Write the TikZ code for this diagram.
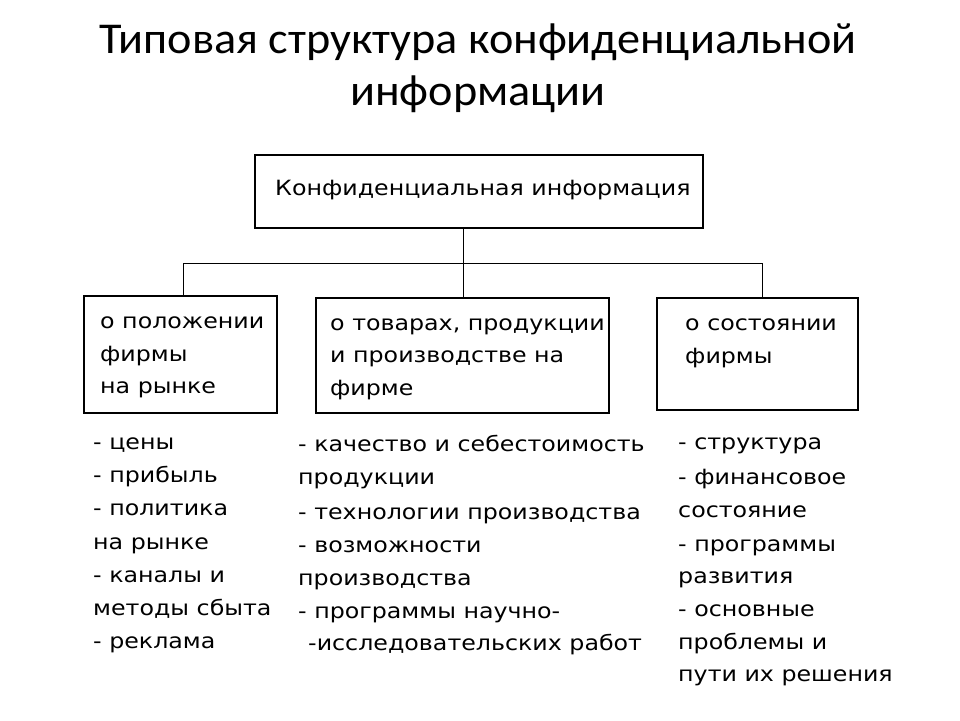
\documentclass[tikz,border=0pt]{standalone}
\usepackage{fontspec}
\setmainfont{DejaVu Sans}[FakeStretch=1.13]
\newfontfamily\titlefont{Carlito}[FakeStretch=1.05]
\begin{document}
\begin{tikzpicture}[x=1pt,y=-1pt,
  box/.style={draw,line width=1.2pt},
  ln/.style={line width=1pt},
  txt/.style={anchor=base west,inner sep=0pt,yshift=-7pt,font=\fontsize{21}{24}\selectfont},
  ttl/.style={font=\titlefont\fontsize{44}{50}\selectfont,inner sep=0pt}]
\useasboundingbox (0,0) rectangle (960,720);
\node[ttl] (t1) at (478,42) {Типовая структура конфиденциальной};
\node[ttl] (t2) at (478,94) {информации};
\draw[box] (255,155) rectangle (703,228);
\node[txt] (top) at (275,188) {Конфиденциальная информация};
\coordinate (tb) at (463,228);
\coordinate (j) at (463,263);
\coordinate (jl) at (183,263);
\coordinate (jr) at (762,263);
\coordinate (b1) at (183,296);
\coordinate (b2) at (463,298);
\coordinate (b3) at (762,298);
\draw[ln] (tb) -- (j) (jl) -- (jr) (jl) -- (b1) (j) -- (b2) (jr) -- (b3);
\draw[box] (84,296) rectangle (277,413);
\draw[box] (316,298) rectangle (609,413);
\draw[box] (657,298) rectangle (858,410);
\node[txt] (a1) at (100,321) {о положении};
\node[txt] (a2) at (100,354) {фирмы};
\node[txt] (a3) at (100,386) {на рынке};
\node[txt] (c1) at (330,323) {о товарах, продукции};
\node[txt] (c2) at (330,355) {и производстве на};
\node[txt] (c3) at (330,388) {фирме};
\node[txt] (d1) at (685,323) {о состоянии};
\node[txt] (d2) at (685,356) {фирмы};
\node[txt] (l1) at (93,442) {- цены};
\node[txt] (l2) at (93,475) {- прибыль};
\node[txt] (l3) at (93,508) {- политика};
\node[txt] (l4) at (93,542) {на рынке};
\node[txt] (l5) at (93,575) {- каналы и};
\node[txt] (l6) at (93,608) {методы сбыта};
\node[txt] (l7) at (93,641) {- реклама};
\node[txt] (m1) at (298,444) {- качество и себестоимость};
\node[txt] (m2) at (298,477) {продукции};
\node[txt] (m3) at (298,512) {- технологии производства};
\node[txt] (m4) at (298,545) {- возможности};
\node[txt] (m5) at (298,578) {производства};
\node[txt] (m6) at (298,611) {- программы научно-};
\node[txt] (m7) at (308,643) {-исследовательских работ};
\node[txt] (r1) at (678,442) {- структура};
\node[txt] (r2) at (678,477) {- финансовое};
\node[txt] (r3) at (678,510) {состояние};
\node[txt] (r4) at (678,544) {- программы};
\node[txt] (r5) at (678,576) {развития};
\node[txt] (r6) at (678,609) {- основные};
\node[txt] (r7) at (678,642) {проблемы и};
\node[txt] (r8) at (678,674) {пути их решения};
\end{tikzpicture}
\end{document}
